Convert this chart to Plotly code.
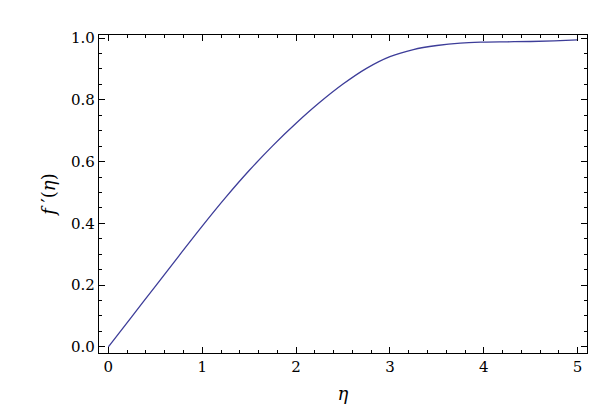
import plotly.graph_objects as go

eta = [0.0, 0.25, 0.5, 0.75, 1.0, 1.25, 1.5, 1.75, 2.0, 2.25, 2.5, 2.75,
       3.0, 3.25, 3.5, 3.75, 4.0, 4.25, 4.5, 4.75, 5.0]
fprime = [0.0, 0.098, 0.196, 0.294, 0.391, 0.484, 0.571, 0.651, 0.724, 0.791,
          0.851, 0.902, 0.940, 0.963, 0.976, 0.984, 0.987, 0.988, 0.989,
          0.991, 0.994]

x_ticks = [0, 1, 2, 3, 4, 5]
y_ticks = [0.0, 0.2, 0.4, 0.6, 0.8, 1.0]
y_tick_text = ["0.0", "0.2", "0.4", "0.6", "0.8", "1.0"]

font_family = "DejaVu Serif"

fig = go.Figure()
fig.add_trace(go.Scatter(x=eta, y=fprime, mode="lines",
                         line=dict(color="#3d3d99", width=1.3, shape="spline", smoothing=1.0),
                         showlegend=False))

axis_common = dict(showline=True, linecolor="black", linewidth=1.3,
                   mirror="allticks", ticks="inside", ticklen=6, tickwidth=1.2,
                   tickcolor="black", showgrid=False, zeroline=False,
                   tickfont=dict(family=font_family, size=15, color="black"))

fig.update_xaxes(range=[-0.1, 5.1], tickvals=x_ticks,
                 minor=dict(dtick=0.2, ticks="inside", ticklen=3, tickwidth=1, tickcolor="black", showgrid=False),
                 title=dict(text="<i>η</i>", font=dict(family=font_family, size=18, color="black"), standoff=12),
                 **axis_common)
fig.update_yaxes(range=[-0.02, 1.01], tickvals=y_ticks, ticktext=y_tick_text,
                 minor=dict(dtick=0.05, ticks="inside", ticklen=3, tickwidth=1, tickcolor="black", showgrid=False),
                 title=dict(text="<i>f</i> ′(<i>η</i>)", font=dict(family=font_family, size=18, color="black"), standoff=10),
                 **axis_common)

fig.update_layout(width=600, height=420, plot_bgcolor="white", paper_bgcolor="white",
                  font=dict(family=font_family, color="black"),
                  margin=dict(l=91, r=21, t=27, b=75))

fig.write_html("out.html")
